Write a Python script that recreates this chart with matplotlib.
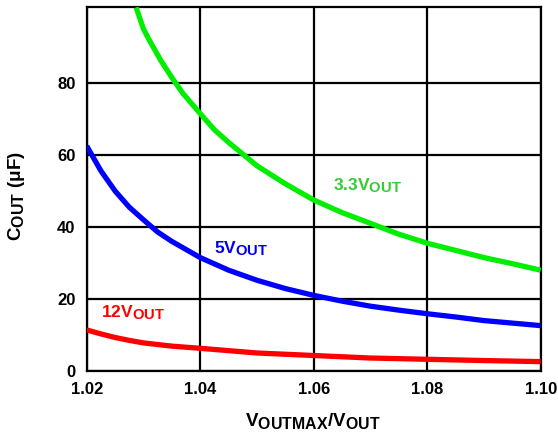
import matplotlib
matplotlib.use("Agg")
import matplotlib.pyplot as plt
try:
    import matplotlib._mathtext as _mt
    _mt.SHRINK_FACTOR = 0.85
except Exception:
    pass

plt.rcParams['font.family'] = ['Liberation Sans', 'DejaVu Sans']
plt.rcParams['font.weight'] = 'bold'
plt.rcParams['mathtext.fontset'] = 'custom'
plt.rcParams['mathtext.rm'] = 'Liberation Sans:bold'
plt.rcParams['mathtext.bf'] = 'Liberation Sans:bold'
plt.rcParams['mathtext.it'] = 'Liberation Sans:bold'

# Data
ratio_33 = [1.0287, 1.030, 1.031, 1.033, 1.035, 1.037, 1.040, 1.0425, 1.045, 1.050, 1.055, 1.060,
            1.065, 1.070, 1.075, 1.080, 1.085, 1.090, 1.095, 1.100]
cout_33 = [101, 95, 92, 86.4, 81.5, 77, 71.5, 67, 63.5, 57, 52, 47.5,
           44, 41, 38, 35.5, 33.5, 31.5, 29.8, 28]

ratio_5 = [1.020, 1.0225, 1.025, 1.0275, 1.030, 1.0325, 1.035, 1.040, 1.045, 1.050, 1.055, 1.060,
           1.065, 1.070, 1.075, 1.080, 1.085, 1.090, 1.095, 1.100]
cout_5 = [62.5, 55.6, 50, 45.5, 42, 38.6, 36, 31.5, 28, 25.2, 22.9, 21,
          19.4, 18, 16.9, 15.9, 15, 14, 13.3, 12.6]

ratio_12 = [1.020, 1.0225, 1.025, 1.0275, 1.030, 1.035, 1.040, 1.050, 1.060, 1.070, 1.080, 1.090, 1.100]
cout_12 = [11.4, 10.3, 9.3, 8.5, 7.8, 6.9, 6.3, 5.0, 4.3, 3.6, 3.25, 2.9, 2.6]

x_ticks = [1.02, 1.04, 1.06, 1.08, 1.10]
x_tick_labels = ['1.02', '1.04', '1.06', '1.08', '1.10']
y_ticks = [0, 20, 40, 60, 80]

fig = plt.figure(figsize=(5.58, 4.34), dpi=100)
ax = fig.add_axes([0.1554, 0.1452, 0.969 - 0.1554, 0.983 - 0.1452])

lw = 3.8
ax.plot(ratio_33, cout_33, color='#00ee00', lw=lw, solid_capstyle='butt', solid_joinstyle='round', zorder=3)
ax.plot(ratio_5, cout_5, color='#0000ff', lw=lw, solid_capstyle='butt', solid_joinstyle='round', zorder=3)
ax.plot(ratio_12, cout_12, color='#ff0000', lw=lw, solid_capstyle='butt', solid_joinstyle='round', zorder=3)

ax.set_xlim(1.02, 1.10)
ax.set_ylim(0, 101)
ax.set_xticks(x_ticks)
ax.set_xticklabels(x_tick_labels)
ax.set_yticks(y_ticks)
ax.grid(True, color='black', lw=1.6)
ax.set_axisbelow(True)
for s in ax.spines.values():
    s.set_linewidth(1.6)
    s.set_color('black')
ax.tick_params(length=0, pad=8, labelsize=12)
for lab in ax.get_xticklabels() + ax.get_yticklabels():
    lab.set_fontweight('bold')

ax.text(1.0634, 51.4, r'$\mathrm{3.3V_{OUT}}$', color='#33cc33', fontsize=12.5, va='center', ha='left')
ax.text(1.0424, 33.9, r'$\mathrm{5V_{OUT}}$', color='#0000ee', fontsize=12.5, va='center', ha='left')
ax.text(1.0226, 16.1, r'$\mathrm{12V_{OUT}}$', color='#ff0000', fontsize=12.5, va='center', ha='left')

fig.text(313 / 558, 1 - 421 / 434, r'$\mathrm{V_{OUTMAX}/V_{OUT}}$', fontsize=13.5,
         ha='center', va='center')
fig.text(17 / 558, 1 - 196 / 434, r'$\mathrm{C_{OUT}\ (\mu F)}$', fontsize=13.5,
         ha='center', va='center', rotation=90)

fig.savefig('out.png', dpi=100)
